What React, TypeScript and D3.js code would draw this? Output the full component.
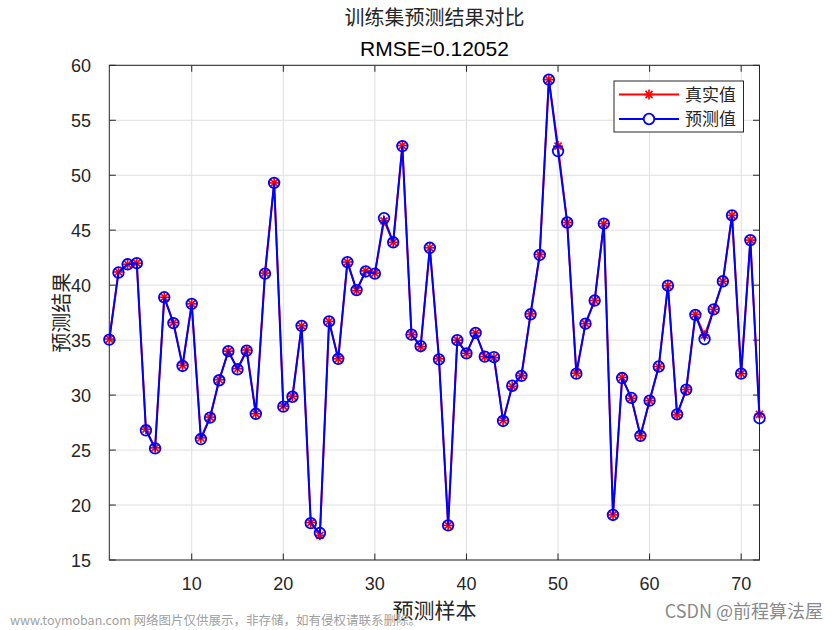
import React from "react";
import * as d3 from "d3";

const trueValues = [
  35.1, 41.2, 41.9, 42.0, 26.9, 25.2, 38.9, 36.6, 32.7, 38.3,
  26.1, 28.0, 31.4, 34.0, 32.4, 34.1, 28.3, 41.1, 49.3, 29.0,
  29.9, 36.3, 18.4, 17.25, 36.7, 33.3, 42.1, 39.5, 41.3, 41.1,
  45.85, 43.9, 52.7, 35.5, 34.4, 43.4, 33.3, 18.15, 35.0, 33.8,
  35.65, 33.5, 33.4, 27.7, 30.8, 31.75, 37.4, 42.8, 58.7, 52.65,
  45.7, 32.0, 36.5, 38.6, 45.6, 19.1, 31.6, 29.7, 26.3, 29.5,
  32.6, 39.95, 28.2, 30.5, 37.35, 35.45, 37.8, 40.35, 46.35, 31.95,
  44.1, 28.25,
];
const predValues = [
  35.05, 41.15, 41.9, 42.0, 26.8, 25.15, 38.9, 36.55, 32.65, 38.3,
  26.0, 27.95, 31.35, 34.0, 32.35, 34.05, 28.3, 41.05, 49.3, 28.95,
  29.85, 36.3, 18.35, 17.45, 36.7, 33.3, 42.1, 39.55, 41.25, 41.05,
  46.1, 43.9, 52.65, 35.5, 34.45, 43.4, 33.25, 18.15, 35.0, 33.8,
  35.65, 33.5, 33.45, 27.65, 30.85, 31.75, 37.35, 42.75, 58.7, 52.2,
  45.7, 31.95, 36.5, 38.6, 45.6, 19.1, 31.55, 29.75, 26.3, 29.5,
  32.6, 39.95, 28.25, 30.5, 37.3, 35.1, 37.8, 40.35, 46.35, 31.95,
  44.1, 27.9,
];
const xTicks = [10, 20, 30, 40, 50, 60, 70];
const yTicks = [15, 20, 25, 30, 35, 40, 45, 50, 55, 60];
const titleText = "训练集预测结果对比";
const subtitleText = "RMSE=0.12052";
const xLabel = "预测样本";
const yLabel = "预测结果";
const legendLabels = ["真实值", "预测值"];

const W = 840;
const H = 630;
const L = 109.3, R = 759.5, T = 65.3, B = 560;
const axisColor = "#262626";
const cjk = "'Noto Sans CJK SC', 'Noto Sans', sans-serif";
const latin = "'Liberation Sans', Arial, sans-serif";

function Star({ cx, cy, s }: { cx: number; cy: number; s: number }) {
  const d = s * Math.SQRT1_2;
  return (
    <g stroke="#ff0000" strokeWidth={1.7}>
      <line x1={cx - s} y1={cy} x2={cx + s} y2={cy} />
      <line x1={cx} y1={cy - s} x2={cx} y2={cy + s} />
      <line x1={cx - d} y1={cy - d} x2={cx + d} y2={cy + d} />
      <line x1={cx - d} y1={cy + d} x2={cx + d} y2={cy - d} />
    </g>
  );
}

export default function App() {
  const x = d3.scaleLinear().domain([1, 72]).range([L, R]);
  const y = d3.scaleLinear().domain([15, 60]).range([B, T]);
  const idx = trueValues.map((_, i) => i + 1);
  const line = d3
    .line<number>()
    .x((_, i) => x(i + 1))
    .y((v) => y(v));

  return (
    <svg
      width={W}
      height={H}
      style={{ position: "absolute", left: 0, top: 0, background: "#fff" }}
    >
      <rect x={0} y={0} width={W} height={H} fill="#fff" />
      <g stroke="#dfdfdf" strokeWidth={1}>
        {xTicks.map((t) => (
          <line key={"gx" + t} x1={x(t)} x2={x(t)} y1={T} y2={B} />
        ))}
        {yTicks.map((t) => (
          <line key={"gy" + t} x1={L} x2={R} y1={y(t)} y2={y(t)} />
        ))}
      </g>
      <rect x={L} y={T} width={R - L} height={B - T} fill="none" stroke={axisColor} strokeWidth={1} />
      <g stroke={axisColor} strokeWidth={1}>
        {xTicks.map((t) => (
          <g key={"tx" + t}>
            <line x1={x(t)} x2={x(t)} y1={B} y2={B - 6.5} />
            <line x1={x(t)} x2={x(t)} y1={T} y2={T + 6.5} />
          </g>
        ))}
        {yTicks.map((t) => (
          <g key={"ty" + t}>
            <line x1={L} x2={L + 6.5} y1={y(t)} y2={y(t)} />
            <line x1={R} x2={R - 6.5} y1={y(t)} y2={y(t)} />
          </g>
        ))}
      </g>
      <g fill={axisColor} fontFamily={latin} fontSize={18}>
        {xTicks.map((t) => (
          <text key={"lx" + t} x={x(t)} y={590} textAnchor="middle">
            {t}
          </text>
        ))}
        {yTicks.map((t) => (
          <text key={"ly" + t} x={91} y={y(t) + 6.5} textAnchor="end">
            {t}
          </text>
        ))}
      </g>
      <path d={line(trueValues) || ""} fill="none" stroke="#ff0000" strokeWidth={1.8} />
      {idx.map((i) => (
        <Star key={"s" + i} cx={x(i)} cy={y(trueValues[i - 1])} s={5} />
      ))}
      <path d={line(predValues) || ""} fill="none" stroke="#0000ff" strokeWidth={2} />
      {idx.map((i) => (
        <circle
          key={"c" + i}
          cx={x(i)}
          cy={y(predValues[i - 1])}
          r={5.3}
          fill="none"
          stroke="#0000ff"
          strokeWidth={1.8}
        />
      ))}
      <text x={434.5} y={25} textAnchor="middle" fontFamily={cjk} fontSize={20} fill={axisColor}>
        {titleText}
      </text>
      <text x={434.5} y={56} textAnchor="middle" fontFamily={latin} fontSize={21} fill="#000">
        {subtitleText}
      </text>
      <text x={434.5} y={618} textAnchor="middle" fontFamily={cjk} fontSize={21} fill={axisColor}>
        {xLabel}
      </text>
      <text
        transform={`translate(69,${(T + B) / 2}) rotate(-90)`}
        textAnchor="middle"
        fontFamily={cjk}
        fontSize={20}
        fill={axisColor}
      >
        {yLabel}
      </text>
      <rect x={614} y={81} width={129.5} height={51} fill="#fff" stroke={axisColor} strokeWidth={1} />
      <line x1={619} x2={679} y1={94.5} y2={94.5} stroke="#ff0000" strokeWidth={1.8} />
      <Star cx={649} cy={94.5} s={5} />
      <line x1={619} x2={679} y1={119} y2={119} stroke="#0000ff" strokeWidth={2} />
      <circle cx={649} cy={119} r={5.3} fill="#fff" stroke="#0000ff" strokeWidth={1.8} />
      <g fontFamily={cjk} fontSize={17} fill={axisColor}>
        <text x={685} y={100.5}>{legendLabels[0]}</text>
        <text x={685} y={125}>{legendLabels[1]}</text>
      </g>
      <text x={823} y={618} textAnchor="end" fontFamily={cjk} fontSize={18} fill="#8a8a8a">
        CSDN @前程算法屋
      </text>
      <text x={10} y={625} fontFamily={cjk} fontSize={12.5} fill="#a0a0a0">
        www.toymoban.com 网络图片仅供展示，非存储，如有侵权请联系删除。
      </text>
    </svg>
  );
}
